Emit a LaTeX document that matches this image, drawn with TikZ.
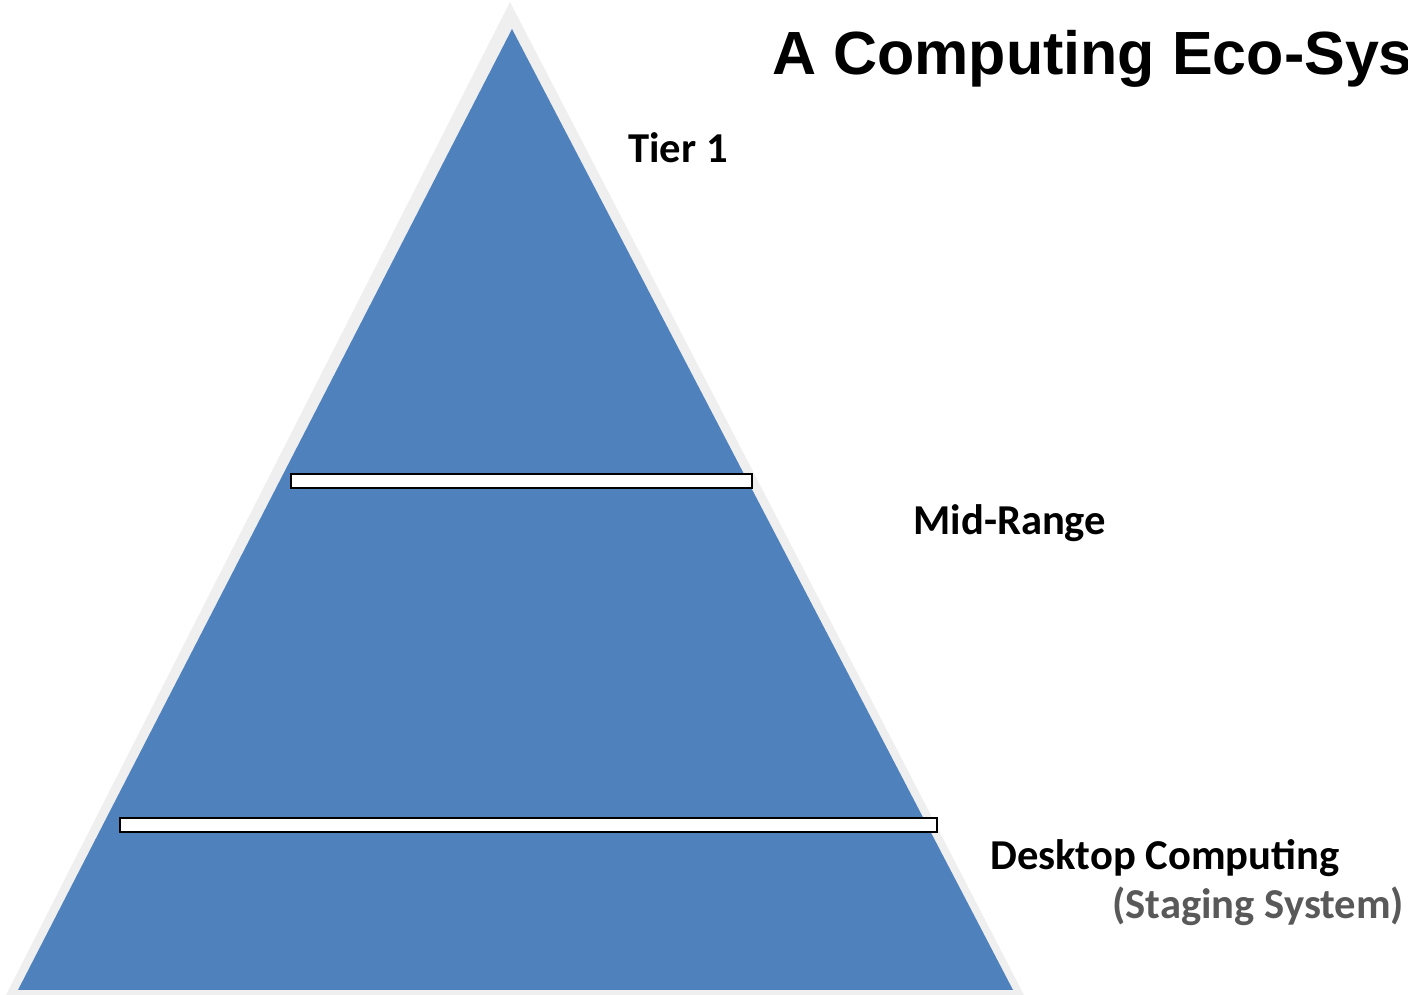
\documentclass[tikz,border=0pt]{standalone}
\usepackage{fontspec}
\setmainfont{Carlito}
\newfontfamily\ttlfont{Liberation Sans}
\usetikzlibrary{positioning}
\definecolor{ecoblue}{HTML}{4F81BD}
\definecolor{ecorim}{HTML}{EFEFEF}
\definecolor{ecoink}{HTML}{000000}
\definecolor{ecomute}{HTML}{595959}
\tikzset{
  lvl/.style={font=\fontsize{21.3}{25}\selectfont\bfseries, text=ecoink, inner sep=0pt, anchor=base west},
  sub/.style={lvl, text=ecomute},
  bar/.style={draw=black, line width=1pt, fill=white, minimum height=7pt, inner sep=0pt},
  ttl/.style={font=\ttlfont\fontsize{30.5}{36}\selectfont\bfseries, inner sep=0pt, anchor=base west},
}
\begin{document}
\begin{tikzpicture}[x=0.5pt, y=0.5pt]
  \clip (0,0) rectangle (1408,995);
  \fill[ecorim] (6,0) -- (510,993) -- (1024,0) -- cycle;
  \fill[ecoblue] (18,5) -- (512,966) -- (1013,5) -- cycle;
  \node[bar, minimum width=230.5pt] (midbar) at (521.5,514) {};
  \node[bar, minimum width=408.5pt] (deskbar) at (528.5,170) {};
  \node[ttl] (title) at (772,920) {A Computing Eco-System};
  \foreach \nm/\x/\y/\st/\tx in {
    tier/628/832/lvl/{Tier 1},
    mid/913/460/lvl/{Mid-Range},
    desk/990/125/lvl/{Desktop Computing},
    stage/1112/76/sub/{(Staging System)}}
  {
    \node[\st] (\nm) at (\x,\y) {\tx};
  }
\end{tikzpicture}
\end{document}
